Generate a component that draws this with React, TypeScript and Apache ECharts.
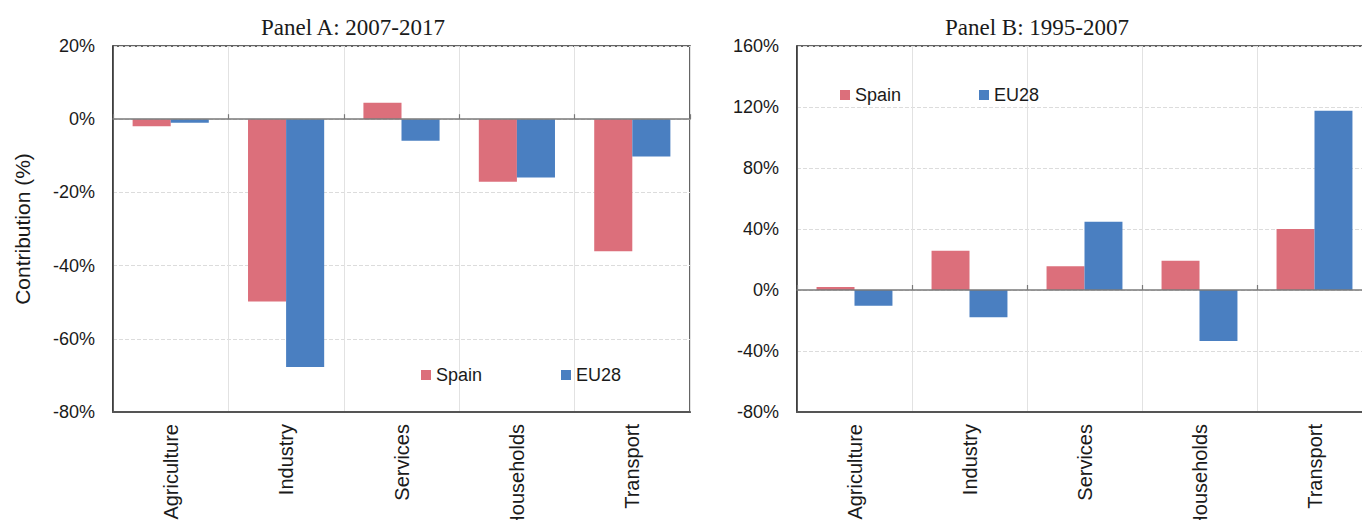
import React, { useEffect, useRef } from "react";
import * as echarts from "echarts";

const categories = ["Agriculture", "Industry", "Services", "Households", "Transport"];
const spainA = [-1.9, -49.8, 4.5, -17.1, -36.1];
const eu28A = [-1.0, -67.7, -5.9, -15.9, -10.2];
const spainB = [2.0, 25.7, 15.6, 19.1, 40.0];
const eu28B = [-10.3, -17.8, 44.8, -33.4, 117.5];
const titleA = "Panel A: 2007-2017";
const titleB = "Panel B: 1995-2007";
const yNameA = "Contribution (%)";

const SPAIN = "#DC6F7B";
const EU = "#4A7FC1";
const SANS = "'Liberation Sans', Arial, sans-serif";
const SERIF = "'Liberation Serif', 'Times New Roman', serif";

export default function App() {
  const ref = useRef<HTMLDivElement>(null);
  useEffect(() => {
    if (!ref.current) return;
    const chart = echarts.init(ref.current, null, { renderer: "svg" });
    const labelAxis = (gridIndex: number) => ({
      type: "category",
      gridIndex,
      data: categories,
      position: "bottom",
      axisLine: { onZero: false, lineStyle: { color: "#555", width: 2 } },
      axisTick: { show: false },
      axisLabel: {
        rotate: 90,
        margin: 12,
        interval: 0,
        color: "#1a1a1a",
        fontSize: 20,
        fontFamily: SANS,
      },
      splitLine: { show: true, interval: 0, lineStyle: { color: "#e2e2e2", width: 1 } },
    });
    const zeroAxis = (gridIndex: number) => ({
      type: "category",
      gridIndex,
      data: categories,
      position: "bottom",
      z: 5,
      axisLine: { onZero: true, lineStyle: { color: "#7a7a7a", width: 1.5 } },
      axisTick: { show: true, inside: true, length: 5, interval: 0, lineStyle: { color: "#7a7a7a", width: 1.2 } },
      axisLabel: { show: false },
      splitLine: { show: false },
    });
    const valueAxis = (gridIndex: number, min: number, max: number, interval: number) => ({
      type: "value",
      gridIndex,
      min,
      max,
      interval,
      axisLine: { show: true, lineStyle: { color: "#333", width: 1.5 } },
      axisTick: { show: false },
      axisLabel: {
        formatter: "{value}%",
        margin: 18,
        color: "#1a1a1a",
        fontSize: 18,
        fontFamily: SANS,
      },
      splitLine: { show: true, lineStyle: { color: "#dcdcdc", type: "dashed", width: 1 } },
    });
    const legendItem = (name: string, left: number, top: number) => ({
      data: [name],
      left,
      top,
      icon: "rect",
      itemWidth: 10,
      itemHeight: 10,
      padding: 0,
      selectedMode: false,
      textStyle: { fontSize: 18, fontFamily: SANS, color: "#1a1a1a" },
    });
    const bar = (name: string, data: number[], xi: number, yi: number, color: string) => ({
      type: "bar",
      name,
      data,
      xAxisIndex: xi,
      yAxisIndex: yi,
      barGap: "0%",
      barCategoryGap: "34%",
      itemStyle: { color },
    });
    chart.setOption({
      animation: false,
      grid: [
        {
          left: 113, top: 46, width: 577, height: 366,
          outerBoundsMode: "none", containLabel: false,
          show: true, borderColor: "#333", borderWidth: 1.5,
        },
        {
          left: 797, top: 46, width: 575, height: 366,
          outerBoundsMode: "none", containLabel: false,
          show: true, borderColor: "#333", borderWidth: 1.5,
        },
      ],
      xAxis: [labelAxis(0), zeroAxis(0), labelAxis(1), zeroAxis(1)],
      yAxis: [
        {
          ...valueAxis(0, -80, 20, 20),
          name: yNameA,
          nameLocation: "middle",
          nameGap: 80,
          nameTextStyle: { fontSize: 21, fontFamily: SANS, color: "#1a1a1a" },
        },
        valueAxis(1, -80, 160, 40),
      ],
      legend: [
        legendItem("Spain", 421, 366),
        legendItem("EU28", 561, 366),
        legendItem("Spain", 840, 86),
        legendItem("EU28", 979, 86),
      ],
      graphic: [
        {
          type: "text",
          x: 353,
          y: 27,
          style: {
            text: titleA,
            fontSize: 23,
            fontFamily: SERIF,
            fill: "#1a1a1a",
            align: "center",
            verticalAlign: "middle",
            textAlign: "center",
            textVerticalAlign: "middle",
          },
        },
        {
          type: "text",
          x: 1037,
          y: 27,
          style: {
            text: titleB,
            fontSize: 23,
            fontFamily: SERIF,
            fill: "#1a1a1a",
            align: "center",
            verticalAlign: "middle",
            textAlign: "center",
            textVerticalAlign: "middle",
          },
        },
      ],
      series: [
        bar("Spain", spainA, 0, 0, SPAIN),
        bar("EU28", eu28A, 0, 0, EU),
        bar("Spain", spainB, 2, 1, SPAIN),
        bar("EU28", eu28B, 2, 1, EU),
      ],
    });
    return () => chart.dispose();
  }, []);
  return (
    <div
      ref={ref}
      style={{ position: "fixed", left: 0, top: 0, width: 1362, height: 520, background: "#fff" }}
    />
  );
}
